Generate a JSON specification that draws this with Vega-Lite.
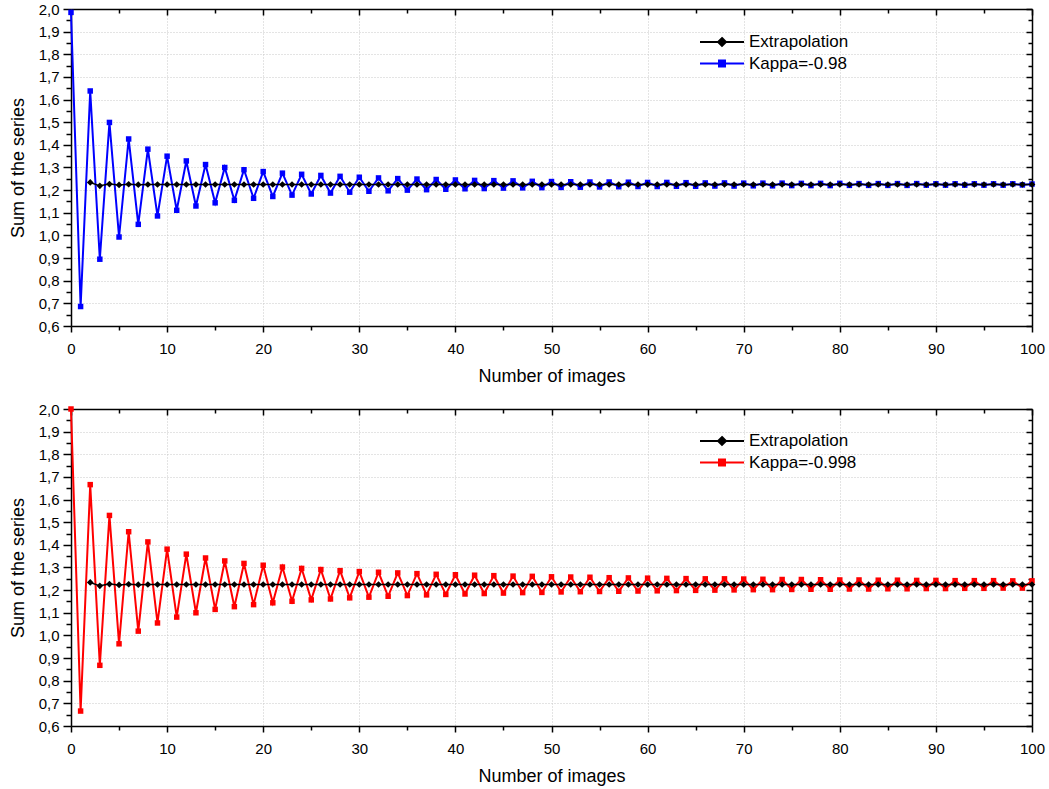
{
  "$schema": "https://vega.github.io/schema/vega-lite/v6.json",
  "background": "white",
  "padding": {"top": 2, "left": 9, "right": 10, "bottom": 5},
  "datasets": {
    "s": [
      {"n":0,"b":1.985,"r":2.0},
      {"n":1,"b":0.686,"r":0.666},
      {"n":2,"e":1.234,"b":1.638,"r":1.666},
      {"n":3,"e":1.219,"b":0.895,"r":0.868},
      {"n":4,"e":1.227,"b":1.499,"r":1.530},
      {"n":5,"e":1.223,"b":0.993,"r":0.963},
      {"n":6,"e":1.226,"b":1.426,"r":1.458},
      {"n":7,"e":1.224,"b":1.049,"r":1.019},
      {"n":8,"e":1.225,"b":1.381,"r":1.413},
      {"n":9,"e":1.225,"b":1.086,"r":1.055},
      {"n":10,"e":1.225,"b":1.350,"r":1.381},
      {"n":11,"e":1.225,"b":1.111,"r":1.081},
      {"n":12,"e":1.225,"b":1.329,"r":1.359},
      {"n":13,"e":1.225,"b":1.130,"r":1.100},
      {"n":14,"e":1.225,"b":1.313,"r":1.342},
      {"n":15,"e":1.225,"b":1.144,"r":1.115},
      {"n":16,"e":1.225,"b":1.300,"r":1.329},
      {"n":17,"e":1.225,"b":1.155,"r":1.127},
      {"n":18,"e":1.225,"b":1.290,"r":1.318},
      {"n":19,"e":1.225,"b":1.164,"r":1.136},
      {"n":20,"e":1.225,"b":1.282,"r":1.310},
      {"n":21,"e":1.225,"b":1.172,"r":1.144},
      {"n":22,"e":1.225,"b":1.275,"r":1.302},
      {"n":23,"e":1.225,"b":1.178,"r":1.151},
      {"n":24,"e":1.225,"b":1.270,"r":1.296},
      {"n":25,"e":1.225,"b":1.183,"r":1.157},
      {"n":26,"e":1.225,"b":1.265,"r":1.291},
      {"n":27,"e":1.225,"b":1.187,"r":1.161},
      {"n":28,"e":1.225,"b":1.261,"r":1.286},
      {"n":29,"e":1.225,"b":1.191,"r":1.166},
      {"n":30,"e":1.225,"b":1.257,"r":1.282},
      {"n":31,"e":1.225,"b":1.195,"r":1.169},
      {"n":32,"e":1.225,"b":1.254,"r":1.279},
      {"n":33,"e":1.225,"b":1.197,"r":1.173},
      {"n":34,"e":1.225,"b":1.251,"r":1.276},
      {"n":35,"e":1.225,"b":1.200,"r":1.176},
      {"n":36,"e":1.225,"b":1.249,"r":1.273},
      {"n":37,"e":1.225,"b":1.202,"r":1.179},
      {"n":38,"e":1.225,"b":1.247,"r":1.270},
      {"n":39,"e":1.225,"b":1.204,"r":1.181},
      {"n":40,"e":1.225,"b":1.245,"r":1.268},
      {"n":41,"e":1.225,"b":1.206,"r":1.183},
      {"n":42,"e":1.225,"b":1.243,"r":1.266},
      {"n":43,"e":1.225,"b":1.207,"r":1.185},
      {"n":44,"e":1.225,"b":1.242,"r":1.264},
      {"n":45,"e":1.225,"b":1.209,"r":1.187},
      {"n":46,"e":1.225,"b":1.241,"r":1.262},
      {"n":47,"e":1.225,"b":1.210,"r":1.189},
      {"n":48,"e":1.225,"b":1.239,"r":1.261},
      {"n":49,"e":1.225,"b":1.211,"r":1.190},
      {"n":50,"e":1.225,"b":1.238,"r":1.259},
      {"n":51,"e":1.225,"b":1.212,"r":1.192},
      {"n":52,"e":1.225,"b":1.237,"r":1.258},
      {"n":53,"e":1.225,"b":1.213,"r":1.193},
      {"n":54,"e":1.225,"b":1.236,"r":1.257},
      {"n":55,"e":1.225,"b":1.214,"r":1.194},
      {"n":56,"e":1.225,"b":1.236,"r":1.255},
      {"n":57,"e":1.225,"b":1.215,"r":1.195},
      {"n":58,"e":1.225,"b":1.235,"r":1.254},
      {"n":59,"e":1.225,"b":1.216,"r":1.196},
      {"n":60,"e":1.225,"b":1.234,"r":1.253},
      {"n":61,"e":1.225,"b":1.216,"r":1.197},
      {"n":62,"e":1.225,"b":1.234,"r":1.252},
      {"n":63,"e":1.225,"b":1.217,"r":1.198},
      {"n":64,"e":1.225,"b":1.233,"r":1.251},
      {"n":65,"e":1.225,"b":1.217,"r":1.199},
      {"n":66,"e":1.225,"b":1.232,"r":1.250},
      {"n":67,"e":1.225,"b":1.218,"r":1.200},
      {"n":68,"e":1.225,"b":1.232,"r":1.250},
      {"n":69,"e":1.225,"b":1.218,"r":1.201},
      {"n":70,"e":1.225,"b":1.231,"r":1.249},
      {"n":71,"e":1.225,"b":1.219,"r":1.202},
      {"n":72,"e":1.225,"b":1.231,"r":1.248},
      {"n":73,"e":1.225,"b":1.219,"r":1.202},
      {"n":74,"e":1.225,"b":1.231,"r":1.247},
      {"n":75,"e":1.225,"b":1.220,"r":1.203},
      {"n":76,"e":1.225,"b":1.230,"r":1.247},
      {"n":77,"e":1.225,"b":1.220,"r":1.204},
      {"n":78,"e":1.225,"b":1.230,"r":1.246},
      {"n":79,"e":1.225,"b":1.220,"r":1.204},
      {"n":80,"e":1.225,"b":1.230,"r":1.245},
      {"n":81,"e":1.225,"b":1.221,"r":1.205},
      {"n":82,"e":1.225,"b":1.229,"r":1.245},
      {"n":83,"e":1.225,"b":1.221,"r":1.205},
      {"n":84,"e":1.225,"b":1.229,"r":1.244},
      {"n":85,"e":1.225,"b":1.221,"r":1.206},
      {"n":86,"e":1.225,"b":1.229,"r":1.244},
      {"n":87,"e":1.225,"b":1.221,"r":1.206},
      {"n":88,"e":1.225,"b":1.229,"r":1.243},
      {"n":89,"e":1.225,"b":1.222,"r":1.207},
      {"n":90,"e":1.225,"b":1.228,"r":1.243},
      {"n":91,"e":1.225,"b":1.222,"r":1.207},
      {"n":92,"e":1.225,"b":1.228,"r":1.242},
      {"n":93,"e":1.225,"b":1.222,"r":1.208},
      {"n":94,"e":1.225,"b":1.228,"r":1.242},
      {"n":95,"e":1.225,"b":1.222,"r":1.208},
      {"n":96,"e":1.225,"b":1.228,"r":1.242},
      {"n":97,"e":1.225,"b":1.222,"r":1.209},
      {"n":98,"e":1.225,"b":1.228,"r":1.241},
      {"n":99,"e":1.225,"b":1.223,"r":1.209},
      {"n":100,"e":1.225,"b":1.227,"r":1.241}
    ]
  },
  "vconcat": [
    {
      "width": 961,
      "height": 317,
      "data": {"name": "s"},
      "layer": [
        {
          "mark": {"type": "line", "strokeWidth": 2},
          "encoding": {
            "x": {"field": "n", "type": "quantitative", "scale": {"domain": [0, 100], "nice": false, "zero": false},
              "axis": {"orient": "bottom", "title": "Number of images", "values": [0,5,10,15,20,25,30,35,40,45,50,55,60,65,70,75,80,85,90,95,100],
                "labelExpr": "datum.value % 10 === 0 ? datum.label : ''",
                "tickSize": {"condition": {"test": "datum.value % 10 === 0", "value": 6}, "value": 4},
                "grid": true,
                "gridOpacity": {"condition": {"test": "datum.value % 10 === 0 && datum.value > 0 && datum.value < 100", "value": 1}, "value": 0},
                "labelPadding": 9, "titlePadding": 11}},
            "y": {"field": "b", "type": "quantitative", "scale": {"domain": [0.6, 2.0], "nice": false, "zero": false},
              "axis": {"orient": "left", "title": "Sum of the series", "values": [0.6,0.65,0.7,0.75,0.8,0.85,0.9,0.95,1.0,1.05,1.1,1.15,1.2,1.25,1.3,1.35,1.4,1.45,1.5,1.55,1.6,1.65,1.7,1.75,1.8,1.85,1.9,1.95,2.0],
                "labelExpr": "round(datum.value*100) % 10 === 0 ? replace(format(datum.value, '.1f'), '.', ',') : ''",
                "tickSize": {"condition": {"test": "round(datum.value*100) % 10 === 0", "value": 8}, "value": 5},
                "grid": true,
                "gridOpacity": {"condition": {"test": "round(datum.value*100) % 10 === 0 && datum.value > 0.61 && datum.value < 1.99", "value": 1}, "value": 0},
                "labelPadding": 4, "titlePadding": 11}},
            "color": {"datum": "Kappa=-0.98", "type": "nominal",
              "scale": {"domain": ["Extrapolation", "Kappa=-0.98"], "range": ["#000000", "#0000ff"]},
              "legend": {"orient": "none", "legendX": 639, "legendY": 21, "title": null, "padding": 0,
                "symbolSize": 484, "symbolStrokeWidth": 2, "labelOffset": 15, "labelFontSize": 17, "labelFont": "Liberation Sans", "labelColor": "black", "rowPadding": 1.5,
                "encode": {"symbols": {"update": {
                  "shape": {"signal": "datum.value === 'Extrapolation' ? 'M-2,0H2M0,-0.36L0.36,0L0,0.36L-0.36,0Z' : 'M-2,0H2M-0.27,-0.27H0.27V0.27H-0.27Z'"},
                  "fill": {"signal": "datum.value === 'Extrapolation' ? '#000000' : '#0000ff'"},
                  "stroke": {"signal": "datum.value === 'Extrapolation' ? '#000000' : '#0000ff'"},
                  "opacity": {"value": 1}, "fillOpacity": {"value": 1}, "strokeOpacity": {"value": 1}}}}}}
          }
        },
        {
          "mark": {"type": "point", "shape": "square", "filled": true, "size": 30, "opacity": 1},
          "encoding": {
            "x": {"field": "n", "type": "quantitative", "axis": null},
            "y": {"field": "b", "type": "quantitative", "axis": null},
            "color": {"datum": "Kappa=-0.98", "type": "nominal"}
          }
        },
        {
          "mark": {"type": "line", "strokeWidth": 1.5},
          "encoding": {
            "x": {"field": "n", "type": "quantitative", "axis": null},
            "y": {"field": "e", "type": "quantitative", "axis": null},
            "color": {"datum": "Extrapolation", "type": "nominal"}
          }
        },
        {
          "mark": {"type": "point", "shape": "diamond", "filled": true, "size": 45, "opacity": 1},
          "encoding": {
            "x": {"field": "n", "type": "quantitative",
              "axis": {"orient": "top", "title": null, "labels": false, "grid": false, "values": [0,5,10,15,20,25,30,35,40,45,50,55,60,65,70,75,80,85,90,95,100],
                "tickSize": {"condition": {"test": "datum.value % 10 === 0", "value": -6}, "value": -4}}},
            "y": {"field": "e", "type": "quantitative",
              "axis": {"orient": "right", "title": null, "labels": false, "grid": false, "values": [0.6,0.65,0.7,0.75,0.8,0.85,0.9,0.95,1.0,1.05,1.1,1.15,1.2,1.25,1.3,1.35,1.4,1.45,1.5,1.55,1.6,1.65,1.7,1.75,1.8,1.85,1.9,1.95,2.0],
                "tickSize": {"condition": {"test": "round(datum.value*100) % 10 === 0", "value": -6}, "value": -4}}},
            "color": {"datum": "Extrapolation", "type": "nominal"}
          }
        }
      ],
      "resolve": {"axis": {"x": "independent", "y": "independent"}}
    },
    {
      "width": 961,
      "height": 317,
      "data": {"name": "s"},
      "layer": [
        {
          "mark": {"type": "line", "strokeWidth": 2},
          "encoding": {
            "x": {"field": "n", "type": "quantitative", "scale": {"domain": [0, 100], "nice": false, "zero": false},
              "axis": {"orient": "bottom", "title": "Number of images", "values": [0,5,10,15,20,25,30,35,40,45,50,55,60,65,70,75,80,85,90,95,100],
                "labelExpr": "datum.value % 10 === 0 ? datum.label : ''",
                "tickSize": {"condition": {"test": "datum.value % 10 === 0", "value": 6}, "value": 4},
                "grid": true,
                "gridOpacity": {"condition": {"test": "datum.value % 10 === 0 && datum.value > 0 && datum.value < 100", "value": 1}, "value": 0},
                "labelPadding": 9, "titlePadding": 11}},
            "y": {"field": "r", "type": "quantitative", "scale": {"domain": [0.6, 2.0], "nice": false, "zero": false},
              "axis": {"orient": "left", "title": "Sum of the series", "values": [0.6,0.65,0.7,0.75,0.8,0.85,0.9,0.95,1.0,1.05,1.1,1.15,1.2,1.25,1.3,1.35,1.4,1.45,1.5,1.55,1.6,1.65,1.7,1.75,1.8,1.85,1.9,1.95,2.0],
                "labelExpr": "round(datum.value*100) % 10 === 0 ? replace(format(datum.value, '.1f'), '.', ',') : ''",
                "tickSize": {"condition": {"test": "round(datum.value*100) % 10 === 0", "value": 8}, "value": 5},
                "grid": true,
                "gridOpacity": {"condition": {"test": "round(datum.value*100) % 10 === 0 && datum.value > 0.61 && datum.value < 1.99", "value": 1}, "value": 0},
                "labelPadding": 4, "titlePadding": 11}},
            "color": {"datum": "Kappa=-0.998", "type": "nominal",
              "scale": {"domain": ["Extrapolation", "Kappa=-0.998"], "range": ["#000000", "#ff0000"]},
              "legend": {"orient": "none", "legendX": 639, "legendY": 20, "title": null, "padding": 0,
                "symbolSize": 484, "symbolStrokeWidth": 2, "labelOffset": 15, "labelFontSize": 17, "labelFont": "Liberation Sans", "labelColor": "black", "rowPadding": 1.5,
                "encode": {"symbols": {"update": {
                  "shape": {"signal": "datum.value === 'Extrapolation' ? 'M-2,0H2M0,-0.36L0.36,0L0,0.36L-0.36,0Z' : 'M-2,0H2M-0.27,-0.27H0.27V0.27H-0.27Z'"},
                  "fill": {"signal": "datum.value === 'Extrapolation' ? '#000000' : '#ff0000'"},
                  "stroke": {"signal": "datum.value === 'Extrapolation' ? '#000000' : '#ff0000'"},
                  "opacity": {"value": 1}, "fillOpacity": {"value": 1}, "strokeOpacity": {"value": 1}}}}}}
          }
        },
        {
          "mark": {"type": "point", "shape": "square", "filled": true, "size": 30, "opacity": 1},
          "encoding": {
            "x": {"field": "n", "type": "quantitative", "axis": null},
            "y": {"field": "r", "type": "quantitative", "axis": null},
            "color": {"datum": "Kappa=-0.998", "type": "nominal"}
          }
        },
        {
          "mark": {"type": "line", "strokeWidth": 1.5},
          "encoding": {
            "x": {"field": "n", "type": "quantitative", "axis": null},
            "y": {"field": "e", "type": "quantitative", "axis": null},
            "color": {"datum": "Extrapolation", "type": "nominal"}
          }
        },
        {
          "mark": {"type": "point", "shape": "diamond", "filled": true, "size": 45, "opacity": 1},
          "encoding": {
            "x": {"field": "n", "type": "quantitative",
              "axis": {"orient": "top", "title": null, "labels": false, "grid": false, "values": [0,5,10,15,20,25,30,35,40,45,50,55,60,65,70,75,80,85,90,95,100],
                "tickSize": {"condition": {"test": "datum.value % 10 === 0", "value": -6}, "value": -4}}},
            "y": {"field": "e", "type": "quantitative",
              "axis": {"orient": "right", "title": null, "labels": false, "grid": false, "values": [0.6,0.65,0.7,0.75,0.8,0.85,0.9,0.95,1.0,1.05,1.1,1.15,1.2,1.25,1.3,1.35,1.4,1.45,1.5,1.55,1.6,1.65,1.7,1.75,1.8,1.85,1.9,1.95,2.0],
                "tickSize": {"condition": {"test": "round(datum.value*100) % 10 === 0", "value": -6}, "value": -4}}},
            "color": {"datum": "Extrapolation", "type": "nominal"}
          }
        }
      ],
      "resolve": {"axis": {"x": "independent", "y": "independent"}}
    }
  ],
  "spacing": 17,
  "resolve": {"scale": {"color": "independent"}, "legend": {"color": "independent"}},
  "config": {
    "view": {"stroke": null},
    "font": "Liberation Sans",
    "axis": {
      "labelFont": "Liberation Sans", "titleFont": "Liberation Sans", "titleFontWeight": "normal",
      "labelColor": "black", "titleColor": "black", "labelFlush": false, "labelOverlap": false,
      "domainColor": "black", "domainWidth": 1.5, "tickColor": "black", "tickWidth": 1.5,
      "gridColor": "#c8c8c8", "gridDash": [1, 2], "gridWidth": 1,
      "labelFontSize": 15, "titleFontSize": 18
    }
  }
}
